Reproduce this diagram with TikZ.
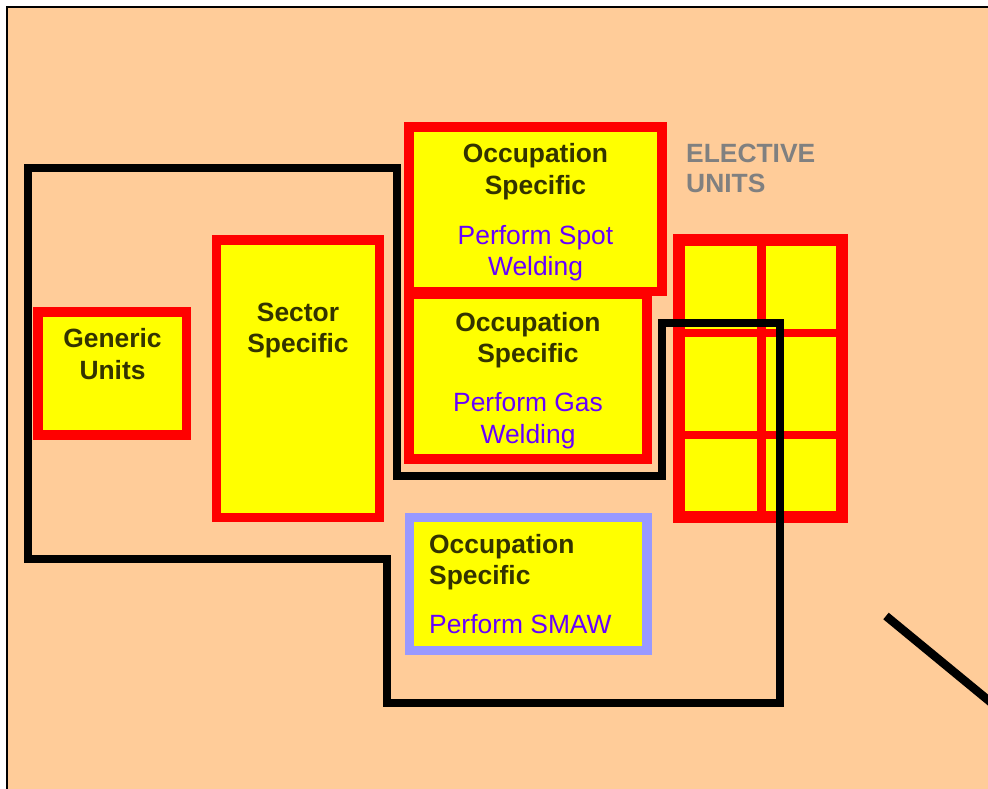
\documentclass[tikz,border=0pt]{standalone}
\usepackage{fontspec}
\setmainfont{Liberation Sans}
\definecolor{peachbg}{RGB}{255,204,153}
\definecolor{headcol}{RGB}{51,51,0}
\definecolor{taskcol}{RGB}{102,0,255}
\definecolor{lavcol}{RGB}{153,153,255}
\definecolor{electcol}{RGB}{128,128,128}
\definecolor{boxyel}{RGB}{255,255,0}
\definecolor{boxred}{RGB}{255,0,0}
\begin{document}
\begin{tikzpicture}[x=1pt,y=-1pt,
 unitbox/.style={draw=boxred,fill=boxyel,line width=9.5pt,inner sep=0pt,rectangle},
 head/.style={font=\fontsize{26.4}{31}\selectfont\bfseries,text=headcol,inner sep=0pt,anchor=base},
 task/.style={font=\fontsize{26.4}{31}\selectfont,text=taskcol,inner sep=0pt,anchor=base},
 outline/.style={line width=8pt,line join=miter,draw=black}]
\useasboundingbox (0,0) rectangle (988,789);
\clip (0,0) rectangle (988,789);
\fill[white] (0,0) rectangle (988,789);
\draw[fill=peachbg,line width=1.8pt] (6.7,6.7) rectangle (1000,800);

% boxes
\node[unitbox,minimum width=148.5pt,minimum height=123pt] (generic) at (112.25,373.5) {};
\node[unitbox,minimum width=163pt,minimum height=277.5pt] (sector) at (298,378.75) {};
\node[unitbox,minimum width=238pt,minimum height=164.5pt] (occgas) at (528,376.75) {};
\node[unitbox,minimum width=253pt,minimum height=164.5pt] (occspot) at (535.5,209.25) {};
\node[unitbox,draw=lavcol,minimum width=237.5pt,minimum height=133pt] (occsmaw) at (528.25,584) {};

% elective grid
\node[unitbox,line width=12pt,minimum width=163pt,minimum height=277pt] (elective) at (760.5,378.5) {};
\draw[boxred,line width=9pt] (761.5,240) -- (761.5,517);
\draw[boxred,line width=8pt] (679,333) -- (842,333);
\draw[boxred,line width=8pt] (679,435) -- (842,435);

% texts
\node[head] (genA) at (112.5,347) {Generic};
\node[head] (genB) at (112.5,379) {Units};
\node[head] (secA) at (298,321) {Sector};
\node[head] (secB) at (298,352) {Specific};
\node[head] (spotA) at (535.5,163) {Occupation};
\node[head] (spotB) at (535.5,194) {Specific};
\node[task] (spotC) at (535.5,244) {Perform Spot};
\node[task] (spotD) at (535.5,275) {Welding};
\node[head] (gasA) at (528,331) {Occupation};
\node[head] (gasB) at (528,362) {Specific};
\node[task] (gasC) at (528,411) {Perform Gas};
\node[task] (gasD) at (528,443) {Welding};
\node[head,anchor=base west] (smawA) at (429,553) {Occupation};
\node[head,anchor=base west] (smawB) at (429,584) {Specific};
\node[task,anchor=base west] (smawC) at (429,633) {Perform SMAW};
\node[head,text=electcol,anchor=base west] (elA) at (686,162) {ELECTIVE};
\node[head,text=electcol,anchor=base west] (elB) at (686,193) {UNITS};

% outline
\draw[outline] (28,168) -- (397,168) -- (397,476) -- (662,476) -- (662,323)
  -- (780,323) -- (780,703) -- (387,703) -- (387,559) -- (28,559) -- cycle;

% diagonal stroke
\draw[line width=8.5pt] (886,616) -- (1005,714);
\end{tikzpicture}
\end{document}
